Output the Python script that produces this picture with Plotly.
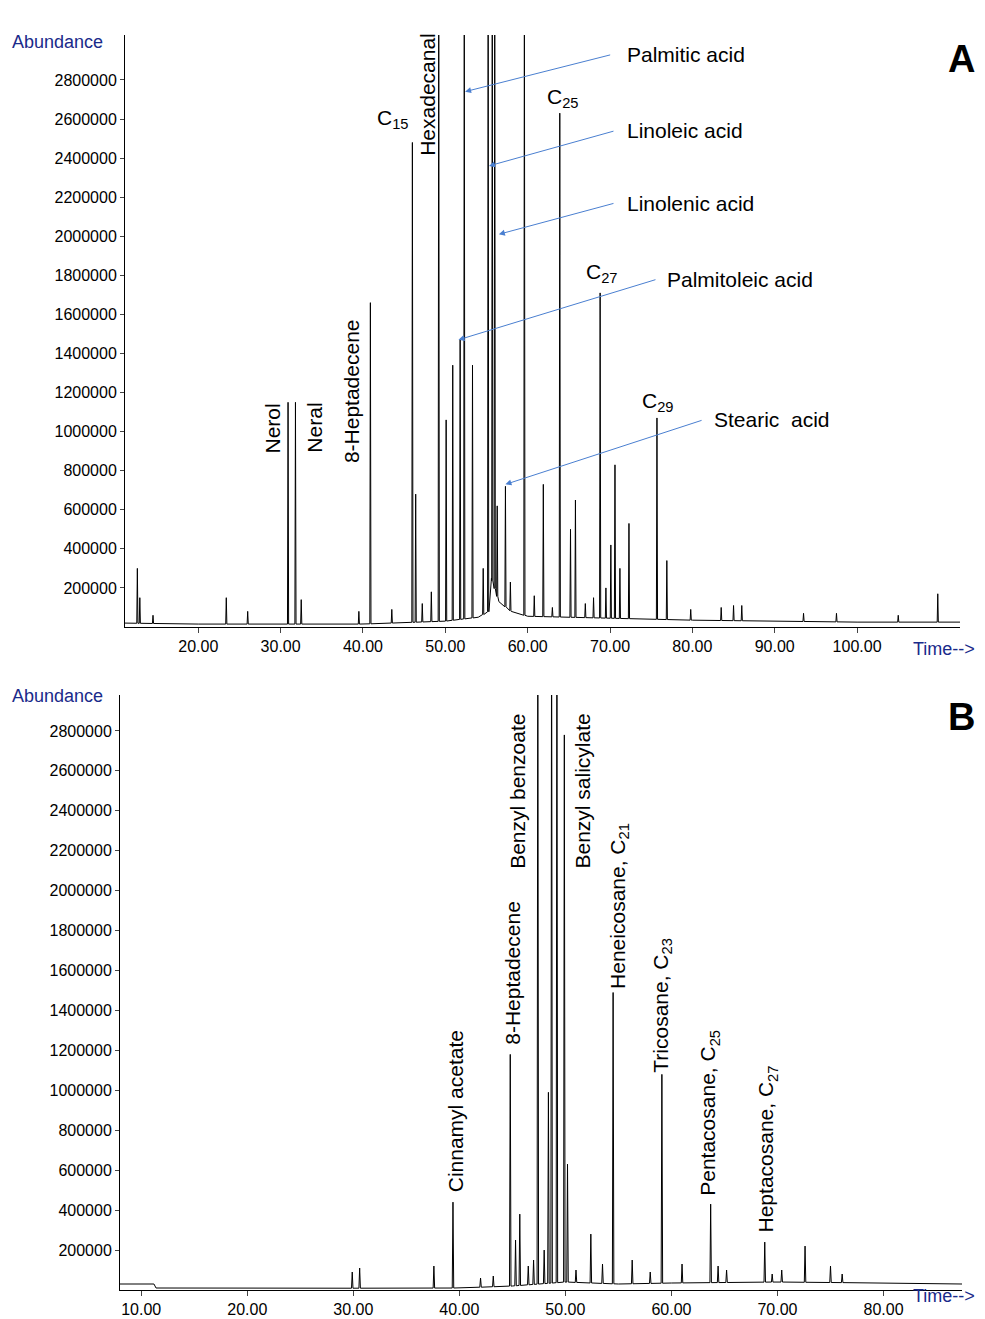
import numpy as np
import plotly.graph_objects as go

# ---- Panel A data (retention time min, abundance) ----
a_peak_t = [12.6, 12.9, 14.5, 23.4, 26.0, 30.9, 31.8, 32.5, 39.5, 40.9, 43.5, 46.0, 46.4, 47.2, 48.3, 49.2, 50.1, 50.9, 51.8,
            52.3, 53.3, 54.6, 55.2, 55.7, 56.0, 56.3, 57.3, 57.9, 59.6, 60.8, 61.9, 63.0, 63.9, 65.2, 65.8, 67.0, 68.0,
            68.8, 69.5, 70.1, 70.6, 71.2, 72.3, 75.7, 76.9, 79.8, 83.5, 85.0, 86.0, 93.5, 97.5, 105.0, 109.8]
a_peak_h = [300000, 150000, 60000, 150000, 80000, 1150000, 1150000, 140000, 80000, 1660000, 90000, 2480000, 680000, 120000,
            180000, 3500000, 1060000, 1340000, 1470000, 3500000, 1340000, 300000, 3500000, 3500000, 3500000, 620000, 720000,
            230000, 3500000, 160000, 730000, 100000, 2630000, 500000, 650000, 120000, 150000, 1710000, 200000, 420000,
            830000, 300000, 530000, 1070000, 340000, 90000, 100000, 110000, 110000, 70000, 70000, 60000, 170000]
a_base_t = [11.1, 20.0, 40.0, 50.0, 54.0, 55.3, 55.6, 56.5, 58.0, 60.0, 70.0, 80.0, 100.0, 112.5]
a_base_h = [20000, 15000, 15000, 30000, 50000, 80000, 250000, 130000, 80000, 55000, 45000, 35000, 25000, 25000]

# ---- Panel B data ----
b_peak_t = [29.9, 30.6, 37.6, 39.4, 42.0, 43.2, 44.8, 45.3, 45.7, 46.5, 47.0, 47.4, 48.0, 48.4, 48.7, 49.2, 49.9, 50.2,
            51.0, 52.4, 53.5, 54.5, 56.3, 58.0, 59.1, 61.0, 63.7, 64.4, 65.2, 68.8, 69.5, 70.4, 72.6, 75.0, 76.1]
b_peak_h = [90000, 110000, 120000, 440000, 60000, 70000, 1180000, 250000, 380000, 120000, 150000, 3500000, 200000, 990000,
            3500000, 3500000, 2780000, 630000, 100000, 280000, 130000, 1490000, 150000, 90000, 1080000, 130000, 430000,
            120000, 100000, 240000, 80000, 100000, 220000, 120000, 80000]
b_base_t = [8.0, 10.5, 11.2, 11.4, 20.0, 40.0, 45.0, 50.0, 55.0, 60.0, 70.0, 80.0, 87.4]
b_base_h = [30000, 30000, 30000, 10000, 8000, 10000, 20000, 40000, 30000, 35000, 40000, 35000, 30000]


def trace_xy(bt, bh, pt, ph):
    pts = list(zip(bt, bh))
    for t, h in zip(pt, ph):
        foot = float(np.interp(t, bt, bh))
        pts += [(t - 0.07, foot), (t, h), (t + 0.07, foot)]
    pts.sort(key=lambda p: p[0])
    return [p[0] for p in pts], [p[1] for p in pts]


xa, ya = trace_xy(a_base_t, a_base_h, a_peak_t, a_peak_h)
xb, yb = trace_xy(b_base_t, b_base_h, b_peak_t, b_peak_h)

W, H, OFF = 969, 1311, 8
def px(x): return (x - OFF) / W
def py(y): return 1 - (y - OFF) / H

FONT = "Liberation Sans Narrow, Liberation Sans, Arial"
fig = go.Figure()
fig.add_trace(go.Scatter(x=xa, y=ya, mode="lines", line=dict(color="black", width=1), xaxis="x", yaxis="y"))
fig.add_trace(go.Scatter(x=xb, y=yb, mode="lines", line=dict(color="black", width=1), xaxis="x2", yaxis="y2"))

yt = list(range(200000, 2800001, 200000))
common_y = dict(tickvals=yt, ticktext=[str(v) for v in yt], showgrid=False, zeroline=False, showline=True,
                automargin=False, linecolor="black", ticks="outside", ticklen=4,
                tickfont=dict(size=16, family=FONT, color="black"))
common_x = dict(showgrid=False, zeroline=False, showline=True, linecolor="black", ticks="outside", ticklen=5,
                automargin=False, tickformat=".2f", tickfont=dict(size=16, family=FONT, color="black"))
fig.update_layout(
    width=W, height=H, margin=dict(l=0, r=0, t=0, b=0, autoexpand=False), showlegend=False,
    plot_bgcolor="white", paper_bgcolor="white",
    xaxis=dict(domain=[px(125), px(960)], range=[11.1, 112.5], tickvals=[20, 30, 40, 50, 60, 70, 80, 90, 100],
               anchor="y", **common_x),
    yaxis=dict(domain=[py(627), py(35)], range=[0, 3030000], anchor="x", **common_y),
    xaxis2=dict(domain=[px(120), px(962)], range=[8.0, 87.4], tickvals=[10, 20, 30, 40, 50, 60, 70, 80],
                anchor="y2", **common_x),
    yaxis2=dict(domain=[py(1290), py(695)], range=[0, 2980000], anchor="x2", **common_y),
)

ann = []
LS = 21
def vlab(text, x, y, xr="x", yr="y"):
    ann.append(dict(text=text, x=x, y=y, xref=xr, yref=yr, textangle=-90, showarrow=False,
                    xanchor="center", yanchor="bottom", font=dict(size=LS, family=FONT, color="black")))
def hlab(text, x, y, xr="x", yr="y", anchor="center"):
    ann.append(dict(text=text, x=x, y=y, xref=xr, yref=yr, showarrow=False, xanchor=anchor, yanchor="middle",
                    font=dict(size=LS, family=FONT, color="black")))

vlab("Nerol", 29.0, 880000)
vlab("Neral", 34.0, 880000)
vlab("8-Heptadecene", 38.7, 830000)
vlab("Hexadecanal", 47.8, 2400000)
hlab("C<sub>15</sub>", 43.7, 2600000)
hlab("C<sub>23</sub>", 60.0, 3110000)
hlab("C<sub>25</sub>", 64.3, 2710000)
hlab("C<sub>27</sub>", 69.0, 1810000)
hlab("C<sub>29</sub>", 75.8, 1150000)

arrows = [("Palmitic acid", 70.2, 2930000, 52.4, 2740000, 71.8),
          ("Linoleic acid", 70.6, 2540000, 55.3, 2360000, 71.8),
          ("Linolenic acid", 70.6, 2170000, 56.5, 2010000, 71.8),
          ("Palmitoleic acid", 75.7, 1780000, 51.6, 1470000, 76.7),
          ("Stearic  acid", 81.3, 1060000, 57.3, 730000, 82.4)]
for txt, tx, ty, hx, hy, lx in arrows:
    ann.append(dict(text="", x=hx, y=hy, ax=tx, ay=ty, xref="x", yref="y", axref="x", ayref="y",
                    showarrow=True, arrowhead=2, arrowsize=1.2, arrowwidth=1, arrowcolor="#4a7fd0"))
    hlab(txt, lx, ty, anchor="left")

vlab("Cinnamyl acetate", 39.6, 480000, "x2", "y2")
vlab("8-Heptadecene", 45.0, 1220000, "x2", "y2")
vlab("Benzyl benzoate", 45.5, 2100000, "x2", "y2")
vlab("Benzyl salicylate", 51.6, 2100000, "x2", "y2")
vlab("Heneicosane, C<sub>21</sub>", 55.0, 1500000, "x2", "y2")
vlab("Tricosane, C<sub>23</sub>", 59.1, 1080000, "x2", "y2")
vlab("Pentacosane, C<sub>25</sub>", 63.6, 460000, "x2", "y2")
vlab("Heptacosane, C<sub>27</sub>", 69.0, 280000, "x2", "y2")

blue = dict(size=18, family=FONT, color="#1a2a8a")
ann += [
    dict(text="Abundance", x=px(10), y=py(30), xref="paper", yref="paper", showarrow=False, xanchor="left", font=blue),
    dict(text="Time-->", x=1.0, y=py(649), xref="paper", yref="paper", showarrow=False, xanchor="right", font=blue),
    dict(text="Abundance", x=px(10), y=py(696), xref="paper", yref="paper", showarrow=False, xanchor="left", font=blue),
    dict(text="Time-->", x=1.0, y=py(1308), xref="paper", yref="paper", showarrow=False, xanchor="right", font=blue),
    dict(text="<b>A</b>", x=1.0, y=py(36), xref="paper", yref="paper", showarrow=False, xanchor="right",
         font=dict(size=38, family="Liberation Sans", color="black")),
    dict(text="<b>B</b>", x=1.0, y=py(717), xref="paper", yref="paper", showarrow=False, xanchor="right",
         font=dict(size=38, family="Liberation Sans", color="black")),
]
fig.update_layout(annotations=ann)
fig.write_html("out.html")
